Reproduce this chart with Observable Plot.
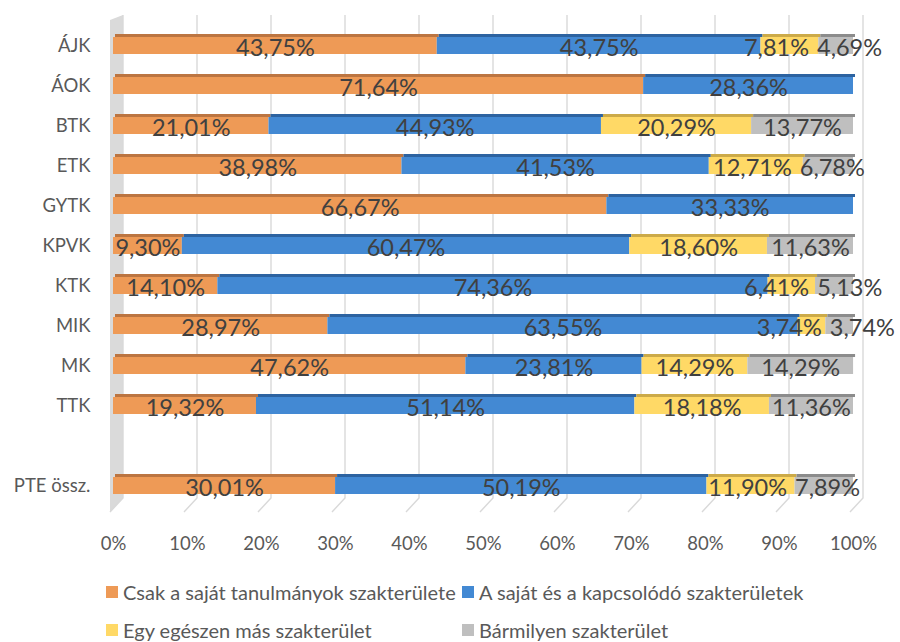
<!DOCTYPE html>
<html>
<head>
<meta charset="utf-8">
<script src="https://cdn.jsdelivr.net/npm/d3@7"></script>
<script src="https://cdn.jsdelivr.net/npm/@observablehq/plot@0.6"></script>
<style>
  html, body { margin: 0; padding: 0; background: #fff; }
  #wrap { position: relative; width: 900px; height: 642px; overflow: hidden; font-family: Lato, "Open Sans", sans-serif; }
  #chart { position: absolute; left: 0; top: 0; }
  .item { position: absolute; display: flex; align-items: center; font-size: 20px; color: #595959; white-space: nowrap; }
  .sw { width: 12px; height: 12px; margin-right: 5px; }
</style>
</head>
<body>
<div id="wrap"><div id="chart"></div></div>
<script>
// ---- data ----
const categories = ["ÁJK", "ÁOK", "BTK", "ETK", "GYTK", "KPVK", "KTK", "MIK", "MK", "TTK", "PTE össz."];
const seriesNames = [
  "Csak a saját tanulmányok szakterülete",
  "A saját és a kapcsolódó szakterületek",
  "Egy egészen más szakterület",
  "Bármilyen szakterület"
];
const csakSajat   = [43.75, 71.64, 21.01, 38.98, 66.67,  9.30, 14.10, 28.97, 47.62, 19.32, 30.01];
const sajatKapcs  = [43.75, 28.36, 44.93, 41.53, 33.33, 60.47, 74.36, 63.55, 23.81, 51.14, 50.19];
const egeszenMas  = [ 7.81,  0.00, 20.29, 12.71,  0.00, 18.60,  6.41,  3.74, 14.29, 18.18, 11.90];
const barmilyen   = [ 4.69,  0.00, 13.77,  6.78,  0.00, 11.63,  5.13,  3.74, 14.29, 11.36,  7.89];
const xTicks = [0, 10, 20, 30, 40, 50, 60, 70, 80, 90, 100];

// ---- styling ----
const colors = ["#EE9A56", "#4389D3", "#FFD966", "#BFBFBF"];
const topColors = ["#BC7541", "#2D63A0", "#CCAA48", "#8C8C8C"];
const W = 900, H = 565, ML = 113, MR = 47, MT = 11, MB = 45;
const PAD = 0.58;
const yDomain = [...categories.slice(0, -1), "", categories[categories.length - 1]];
const nBands = yDomain.length;
const step = (H - MT - MB) / (nBands - PAD + 2 * PAD);
const bw = step * (1 - PAD);
const pxPerUnit = (W - ML - MR) / 100;
const labelSize = 23.5;
const fontFam = "Lato, 'Open Sans', sans-serif";

// ---- build segments ----
const seriesValues = [csakSajat, sajatKapcs, egeszenMas, barmilyen];
const segs = [];
categories.forEach((cat, ci) => {
  let acc = 0;
  seriesValues.forEach((vals, si) => {
    const v = vals[ci];
    segs.push({cat, si, series: seriesNames[si], value: v, x1: acc, x2: acc + v});
    acc += v;
  });
});
const visible = segs.filter(d => d.value > 0);

// ---- label positions with simple collision avoidance ----
const ctx = document.createElement("canvas").getContext("2d");
ctx.font = `${labelSize}px Lato`;
const fmt = v => v.toFixed(2).replace(".", ",") + "%";
const labels = [];
categories.forEach(cat => {
  const row = visible.filter(d => d.cat === cat).map(d => {
    const text = fmt(d.value);
    return {cat, text, c: ML + ((d.x1 + d.x2) / 2) * pxPerUnit, w: ctx.measureText(text).width};
  });
  const gap = 8;
  for (let pass = 0; pass < 10; pass++) {
    for (let i = 0; i < row.length - 1; i++) {
      const need = (row[i].w + row[i + 1].w) / 2 + gap;
      const have = row[i + 1].c - row[i].c;
      if (have < need) {
        const d = (need - have) / 2;
        row[i].c -= d; row[i + 1].c += d;
      }
    }
  }
  row.forEach(r => labels.push({cat: r.cat, text: r.text, lx: (r.c - ML) / pxPerUnit}));
});

// ---- 3D-ish backdrop (wall, back gridlines, floor) ----
function backdrop(index, scales, values, dims) {
  const x = scales.x;
  const top = dims.marginTop + 4;
  const frontB = dims.height - dims.marginBottom - 8;
  const backB = frontB - 14;
  const g = d3.create("svg:g");
  const x0 = x(0);
  g.append("path")
    .attr("d", `M${x0 - 3},${top + 5}L${x0 + 10},${top}L${x0 + 10},${backB}L${x0 - 3},${frontB}Z`)
    .attr("fill", "#DADADA");
  for (const v of xTicks) {
    const xv = x(v);
    g.append("path")
      .attr("d", `M${xv + 10},${top}L${xv + 10},${backB}L${xv - 3},${frontB}`)
      .attr("fill", "none").attr("stroke", "#D9D9D9").attr("stroke-width", 1.4);
  }
  return g.node();
}

const chart = Plot.plot({
  width: W, height: H,
  marginLeft: ML, marginRight: MR, marginTop: MT, marginBottom: MB,
  style: {fontFamily: fontFam, fontSize: "18.5px", color: "#595959", background: "#fff"},
  x: {domain: [0, 100], ticks: 10, tickFormat: d => d + "%", tickSize: 0, tickPadding: 16, label: null},
  y: {domain: yDomain, padding: PAD, tickSize: 0, tickPadding: 23, label: null},
  marks: [
    backdrop,
    Plot.barX(visible, {x1: "x1", x2: "x2", y: "cat", fill: d => topColors[d.si], insetBottom: bw - 3, dy: -3, dx: 2}),
    Plot.ruleX(categories, {x: 100, y: d => d, stroke: "#8C8C8C", strokeWidth: 4, dx: 2, dy: -1.5}),
    Plot.barX(visible, {x1: "x1", x2: "x2", y: "cat", fill: d => colors[d.si]}),
    Plot.text(labels, {x: "lx", y: "cat", text: "text", fontSize: labelSize, fontFamily: fontFam, fill: "#404040", dy: 2})
  ]
});
document.getElementById("chart").appendChild(chart);

// ---- legend (HTML, below the SVG) ----
const wrap = document.getElementById("wrap");
const pos = [[106, 580], [462, 580], [106, 618], [462, 618]];
seriesNames.forEach((name, i) => {
  const it = document.createElement("div");
  it.className = "item";
  it.style.left = pos[i][0] + "px";
  it.style.top = pos[i][1] + "px";
  const sw = document.createElement("div");
  sw.className = "sw";
  sw.style.background = colors[i];
  const t = document.createElement("span");
  t.textContent = name;
  it.appendChild(sw); it.appendChild(t);
  wrap.appendChild(it);
});
</script>
</body>
</html>
